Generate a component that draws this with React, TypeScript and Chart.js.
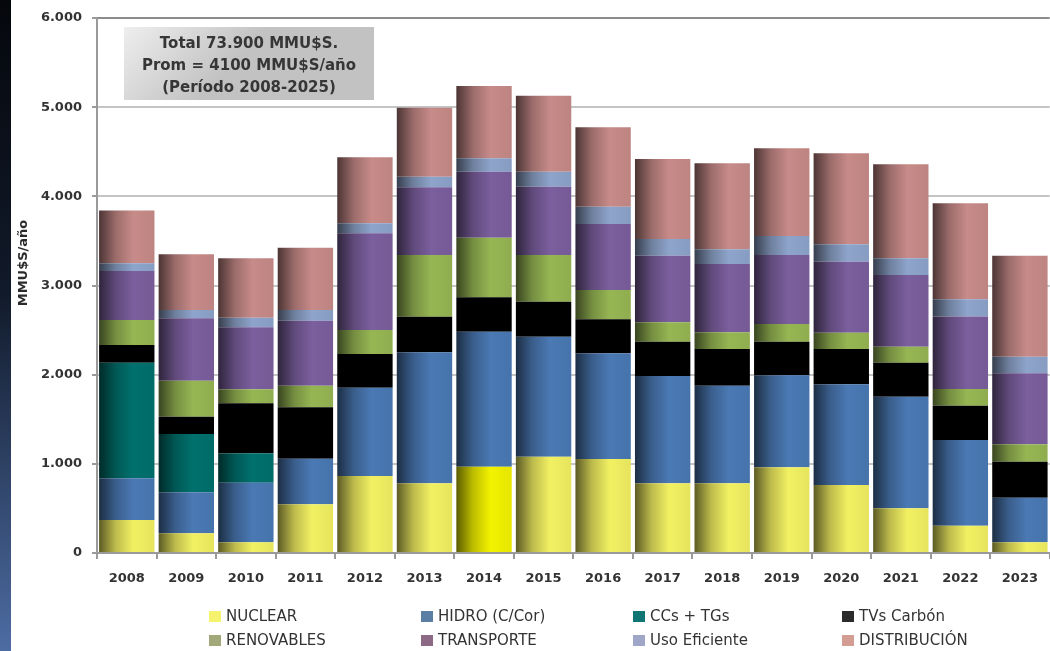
import React, { useEffect, useRef } from "react";
import { Chart, registerables } from "chart.js";

Chart.register(...registerables);

const years = ["2008","2009","2010","2011","2012","2013","2014","2015","2016","2017","2018","2019","2020","2021","2022","2023"];
const nuclear = [370,221,120,546,864,782,968,1080,1054,782,782,961,763,501,306,120];
const hidro = [468,460,668,512,990,1469,1514,1346,1186,1203,1094,1032,1129,1252,961,500];
const ccs = [1296,654,330,0,0,0,0,0,0,0,0,0,0,0,0,0];
const tvs = [200,194,561,576,378,399,386,392,381,385,412,377,396,381,385,404];
const renovables = [280,404,157,242,269,692,668,524,328,217,187,198,183,180,187,195];
const transporte = [549,699,695,729,1084,759,740,766,741,747,766,775,796,804,813,796];
const usoEficiente = [87,93,108,120,112,119,150,168,194,187,165,213,195,187,194,186];
const distribucion = [590,625,666,699,740,774,811,852,890,898,964,984,1020,1054,1077,1133];

const seriesNames = ["NUCLEAR","HIDRO (C/Cor)","CCs + TGs","TVs Carbón","RENOVABLES","TRANSPORTE","Uso Eficiente","DISTRIBUCIÓN"];
const seriesColors = ["#f2f062","#4a79b4","#00716d","#000000","#96b653","#7b5f9e","#8ea4cb","#c78b89"];
const highlightNuclear = "#f2f200";
const legendColors = ["#f5f26e","#5b7ea5","#0f7673","#2b2b2b","#a3a87a","#8c6a86","#a0a6c8","#d49d94"];
const annotationLines = ["Total 73.900 MMU$S.","Prom = 4100 MMU$S/año","(Período 2008-2025)"];
const yTitle = "MMU$S/año";

const BAR_PCT = 0.93;

function shade(hex: string, f: number): string {
  const n = parseInt(hex.slice(1), 16);
  const r = (n >> 16) & 255, g = (n >> 8) & 255, b = n & 255;
  const c = (v: number) => Math.max(0, Math.min(255, Math.round(v * f)));
  return `rgb(${c(r)},${c(g)},${c(b)})`;
}

function gradFill(base: string | ((i: number) => string)) {
  return (ctx: any) => {
    const color = typeof base === "function" ? base(ctx.dataIndex ?? 0) : base;
    const chart = ctx.chart;
    const xs = chart.scales && chart.scales.x;
    if (!xs || ctx.type !== "data" || !xs.width) return color;
    const cx = xs.getPixelForValue(ctx.dataIndex);
    const w = (xs.width / years.length) * BAR_PCT;
    const g = chart.ctx.createLinearGradient(cx - w / 2, 0, cx + w / 2, 0);
    g.addColorStop(0, shade(color, 0.38));
    g.addColorStop(0.3, shade(color, 0.78));
    g.addColorStop(0.62, shade(color, 1.0));
    g.addColorStop(1, shade(color, 0.95));
    return g;
  };
}

const FONT = "'DejaVu Sans', Verdana, sans-serif";

const decorPlugin = {
  id: "decor",
  beforeDraw(chart: any) {
    const c = chart.ctx;
    c.save();
    const g = c.createLinearGradient(0, 0, 0, chart.height);
    g.addColorStop(0, "#05070c");
    g.addColorStop(0.45, "#111a2a");
    g.addColorStop(1, "#4d6ca3");
    c.fillStyle = g;
    c.fillRect(0, 0, 11, chart.height);
    c.restore();
  },
  afterDraw(chart: any) {
    const c = chart.ctx;
    c.save();
    // annotation box
    const bx = 124, by = 27, bw = 250, bh = 73;
    const g = c.createLinearGradient(bx, by, bx + bw * 0.3, by + bh);
    g.addColorStop(0, "#eeeeee");
    g.addColorStop(1, "#c2c2c2");
    c.fillStyle = g;
    c.fillRect(bx, by, bw, bh);
    c.fillStyle = "#363636";
    c.font = `bold 15px ${FONT}`;
    c.textAlign = "center";
    c.textBaseline = "middle";
    annotationLines.forEach((t, i) => c.fillText(t, bx + bw / 2, 44 + i * 22));

    // y title
    c.save();
    c.translate(24, 263);
    c.rotate(-Math.PI / 2);
    c.font = `bold 13px ${FONT}`;
    c.fillStyle = "#2b2b2b";
    c.fillText(yTitle, 0, 0);
    c.restore();

    // legend
    c.font = `15px ${FONT}`;
    c.textAlign = "left";
    const colX = [209, 421, 633, 842];
    const rowY = [617, 641];
    seriesNames.forEach((name, i) => {
      const col = i % 4, row = Math.floor(i / 4);
      const x = colX[col], y = rowY[row];
      c.fillStyle = legendColors[i];
      c.fillRect(x, y - 6, 12, 11);
      c.fillStyle = "#333333";
      c.fillText(name, x + 17, y);
    });
    c.restore();
  },
};

export default function App() {
  const ref = useRef<HTMLCanvasElement>(null);
  useEffect(() => {
    document.body.style.margin = "0";
    const data = [nuclear, hidro, ccs, tvs, renovables, transporte, usoEficiente, distribucion];
    const datasets = data.map((d, i) => ({
      label: seriesNames[i],
      data: d,
      backgroundColor:
        i === 0
          ? gradFill((idx: number) => (years[idx] === "2014" ? highlightNuclear : seriesColors[0]))
          : gradFill(seriesColors[i]),
      borderWidth: 0,
      barPercentage: BAR_PCT,
      categoryPercentage: 1,
    }));
    const chart = new Chart(ref.current!, {
      type: "bar",
      data: { labels: years, datasets },
      options: {
        animation: false,
        responsive: false,
        maintainAspectRatio: false,
        layout: { padding: { top: 18, right: 0, bottom: 58, left: 0 } },
        plugins: { legend: { display: false }, tooltip: { enabled: false } },
        scales: {
          x: {
            stacked: true,
            afterFit: (s: any) => { s.height = 40; },
            grid: { display: true, drawOnChartArea: false, drawTicks: true, tickLength: 6, color: "#9a9a9a", lineWidth: 2, offset: true },
            border: { display: true, color: "#9a9a9a", width: 2 },
            ticks: { color: "#333333", font: { family: FONT, size: 13, weight: "bold" }, padding: 12 },
          },
          y: {
            stacked: true,
            min: 0,
            max: 6000,
            afterFit: (s: any) => { s.width = 97; },
            grid: {
              color: (ctx: any) => (ctx.tick && ctx.tick.value === 6000 ? "#8c8c8c" : "#c4c4c4"),
              lineWidth: 2,
              tickLength: 5,
              tickColor: "#9a9a9a",
            },
            border: { display: true, color: "#9a9a9a", width: 2 },
            ticks: {
              stepSize: 1000,
              padding: 10,
              color: "#333333",
              font: { family: FONT, size: 13, weight: "bold" },
              callback: (v: any) => (v === 0 ? "0" : String(v).replace(/\B(?=(\d{3})+(?!\d))/g, ".")),
            },
          },
        },
      },
      plugins: [decorPlugin],
    });
    return () => chart.destroy();
  }, []);
  return (
    <div style={{ width: 1050, height: 651, position: "relative", background: "#ffffff" }}>
      <canvas ref={ref} width={1050} height={651} style={{ display: "block" }} />
    </div>
  );
}
